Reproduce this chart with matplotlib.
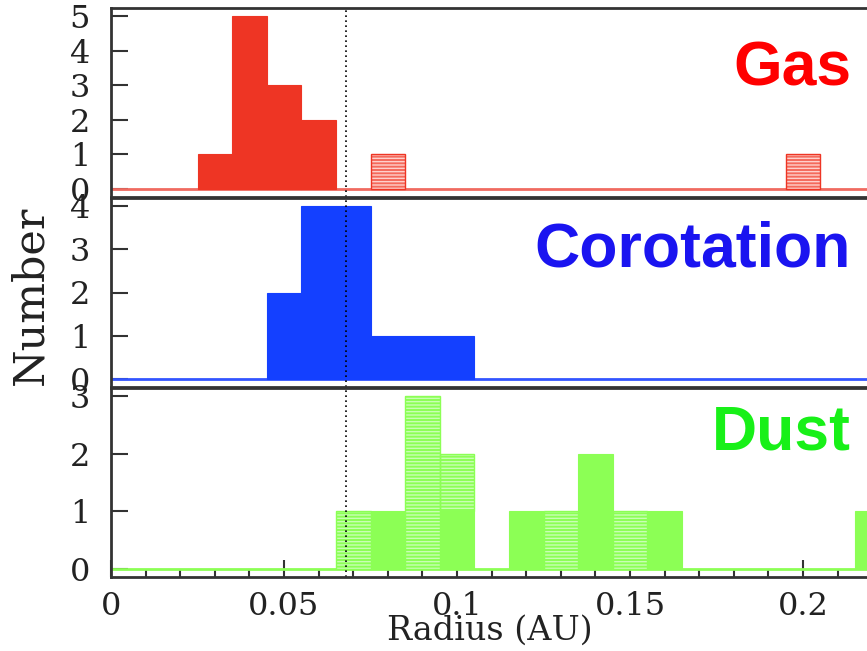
import numpy as np
import matplotlib
matplotlib.use("Agg")
import matplotlib.pyplot as plt
from matplotlib.ticker import MultipleLocator

# ---- data (bin centres in AU, bin width 0.01) ----
bin_width = 0.01
gas_r = [0.03, 0.04, 0.05, 0.06]
gas_n = [1, 5, 3, 2]
gas_hatch_r = [0.08, 0.20]
gas_hatch_n = [1, 1]

cor_r = [0.05, 0.06, 0.07, 0.08, 0.09, 0.10]
cor_n = [2, 4, 4, 1, 1, 1]
cor_hatch_r = []
cor_hatch_n = []

dust_r = [0.08, 0.10, 0.12, 0.14, 0.16, 0.22]
dust_n = [1, 1, 1, 2, 1, 1]
dust_hatch_r = [0.07, 0.09, 0.10, 0.13, 0.15]
dust_hatch_n = [1, 3, 1, 1, 1]

corotation_radius = 0.068
xticks = [0, 0.05, 0.1, 0.15, 0.2]
xtick_labels = ["0", "0.05", "0.1", "0.15", "0.2"]

panels = [
    dict(name="Gas", r=gas_r, n=gas_n, hr=gas_hatch_r, hn=gas_hatch_n, ymax=5,
         bar="#ee3524", face_h="#f46a5c", txt="#ff0000", base="#f06a60"),
    dict(name="Corotation", r=cor_r, n=cor_n, hr=cor_hatch_r, hn=cor_hatch_n, ymax=4,
         bar="#1440ff", face_h="#4466ff", txt="#1a14f0", base="#3355ff"),
    dict(name="Dust", r=dust_r, n=dust_n, hr=dust_hatch_r, hn=dust_hatch_n, ymax=3,
         bar="#8cff55", face_h="#8cff55", txt="#18f018", base="#8cff55"),
]

W, H = 867, 651
fig = plt.figure(figsize=(W / 100, H / 100), dpi=100)
plt.rcParams['hatch.linewidth'] = 1.0

left = 111 / W
tops = [8, 198, 388]
ph = 189
label_baselines = [85, 266, 450]
spine_col = "#333333"

for i, p in enumerate(panels):
    top = tops[i]
    ax = fig.add_axes([left, 1 - (top + ph) / H, 1 - left + 0.002, ph / H])
    ax.set_xlim(0, (W - 111) / 3460 + 0.0005)
    pad = p["ymax"] * 8 / 173
    ax.set_ylim(-pad, p["ymax"] + pad)

    # baseline of histogram
    ax.axhline(0, color=p["base"], lw=2, zorder=2)
    # solid bars
    ax.bar(p["r"], p["n"], width=bin_width, color=p["bar"], edgecolor=p["bar"],
           linewidth=0.8, zorder=3)
    # hatched bars stacked on top of solid
    bottoms = [p["n"][p["r"].index(x)] if x in p["r"] else 0 for x in p["hr"]]
    if p["hr"]:
        hc = "#ffd0cc" if i == 0 else "#c8ffb4"
        ax.bar(p["hr"], p["hn"], width=bin_width, bottom=bottoms, color=p["face_h"],
               edgecolor=hc, hatch="-----", linewidth=0, zorder=3)
        ax.bar(p["hr"], p["hn"], width=bin_width, bottom=bottoms, fill=False,
               edgecolor=p["bar"], linewidth=1.0, zorder=3.5)

    ax.axvline(corotation_radius, color="black", ls=(0, (1, 2)), lw=1.2, zorder=4)

    for s in ["left", "top", "bottom"]:
        ax.spines[s].set_linewidth(2)
        ax.spines[s].set_color(spine_col)
        ax.spines[s].set_zorder(5)
    ax.spines["right"].set_visible(False)

    ax.set_yticks(range(0, p["ymax"] + 1))
    ax.tick_params(axis="y", direction="in", length=12.5, width=1.5, color=spine_col,
                   labelsize=23, pad=15, right=False, labelcolor="#222222")
    for t in ax.get_yticklabels():
        t.set_fontfamily("DejaVu Serif")
    if i < 2:
        ax.set_xticks([])
    else:
        ax.set_xticks(xticks)
        ax.set_xticklabels(xtick_labels, fontfamily="DejaVu Serif")
        ax.xaxis.set_minor_locator(MultipleLocator(0.01))
        ax.tick_params(axis="x", which="major", direction="in", length=12.5, width=1.5,
                       color=spine_col, labelsize=23, pad=10, top=False,
                       labelcolor="#222222")
        ax.tick_params(axis="x", which="minor", direction="in", length=5.8, width=1.5,
                       color=spine_col, top=False)
    ax.set_facecolor("none")

    fig.text(851 / W, 1 - label_baselines[i] / H, p["name"], color=p["txt"],
             fontsize=45, fontweight="bold", family="Liberation Sans",
             ha="right", va="baseline")

fig.text(490 / W, 1 - 631 / H, "Radius (AU)", fontsize=24, family="DejaVu Serif",
         ha="center", va="center", color="#222222")
fig.text(30 / W, 1 - 295 / H, "Number", fontsize=31, family="DejaVu Serif",
         rotation=90, ha="center", va="center", color="#222222")

fig.savefig("out.png", dpi=100)
